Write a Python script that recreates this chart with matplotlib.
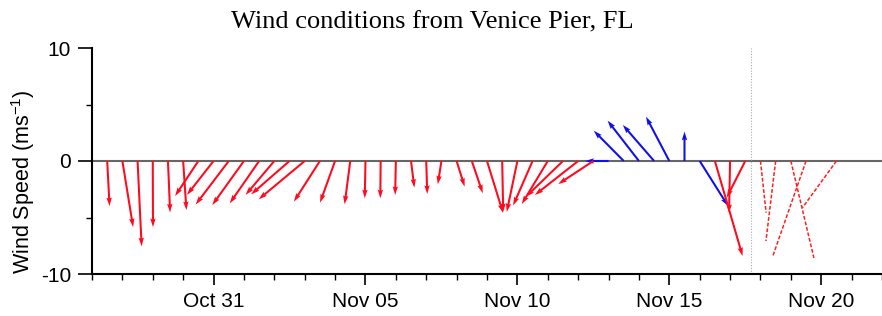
import numpy as np
import matplotlib
matplotlib.use("Agg")
import matplotlib.pyplot as plt
import matplotlib.dates as mdates

plt.rcParams['font.family'] = ['Liberation Sans', 'DejaVu Sans']
plt.rcParams['mathtext.default'] = 'regular'

# ---------------- data ----------------
title = "Wind conditions from Venice Pier, FL"
ylabel = "Wind Speed (ms$^{-1}$)"

# observed (red, solid)
obs_times = ['2014-10-27T12:00', '2014-10-28T00:00', '2014-10-28T12:00', '2014-10-29T00:00',
             '2014-10-29T12:00', '2014-10-30T00:00', '2014-10-30T12:00', '2014-10-31T00:00',
             '2014-10-31T12:00', '2014-11-01T00:00', '2014-11-01T12:00', '2014-11-02T00:00',
             '2014-11-02T12:00', '2014-11-03T00:00', '2014-11-03T12:00', '2014-11-04T00:00',
             '2014-11-04T12:00', '2014-11-05T00:00', '2014-11-05T12:00', '2014-11-06T00:00',
             '2014-11-06T12:00', '2014-11-07T00:00', '2014-11-07T12:00', '2014-11-08T00:00',
             '2014-11-08T12:00', '2014-11-09T00:00', '2014-11-09T12:00', '2014-11-10T00:00',
             '2014-11-10T12:00', '2014-11-11T00:00', '2014-11-11T12:00', '2014-11-12T00:00',
             '2014-11-12T12:00',
             '2014-11-16T12:00', '2014-11-17T00:00', '2014-11-17T12:00']
obs_u = [0.21, 0.95, 0.36, 0.02, 0.19, 0.29, -2.06, -2.35, -2.92, -2.80, -2.60, -2.54,
         -3.39, -4.07, -2.30, -1.33, -0.50, -0.06, -0.03, -0.06, 0.29, 0.09, -0.32, 0.71,
         0.97, 1.42, 0.09, -0.94, -1.72, -2.30, -3.27, -3.83, -3.10,
         2.45, -0.09, -1.65]
obs_v = [-4.00, -5.85, -7.55, -5.85, -4.55, -4.35, -3.10, -3.00, -3.85, -3.90, -3.75, -3.00,
         -2.95, -3.39, -3.60, -3.69, -3.83, -3.30, -3.30, -3.01, -2.36, -2.92, -2.06, -2.27,
         -2.85, -4.60, -4.51, -4.51, -3.94, -3.81, -3.16, -3.01, -2.04,
         -8.41, -4.60, -3.25]

# second source (blue, solid)
alt_times = ['2014-11-13T00:00', '2014-11-13T12:00', '2014-11-14T00:00', '2014-11-14T12:00',
             '2014-11-15T00:00', '2014-11-15T12:00', '2014-11-16T00:00']
alt_u = [-2.06, -2.65, -2.77, -2.77, -2.06, 0.00, 2.51]
alt_v = [0.00, 2.68, 3.57, 3.19, 3.92, 2.60, -3.98]

# forecast (red, dashed)
fc_times = ['2014-11-18T00:00', '2014-11-18T12:00', '2014-11-19T00:00', '2014-11-19T12:00',
            '2014-11-20T12:00']
fc_u = [0.50, -0.86, 2.04, -2.95, -3.01]
fc_v = [-4.57, -7.08, -8.58, -8.45, -4.14]

now_time = '2014-11-17T16:20'
xlim_times = ['2014-10-27T00:00', '2014-11-22T00:00']
ylim = (-10, 10)
ytick_major = [-10, 0, 10]
ytick_minor = [-5, 5]

# ---------------- plot ----------------
def tnum(lst):
    return mdates.date2num(np.array(lst, dtype='datetime64[m]'))

fig = plt.figure(figsize=(8.82, 3.16), dpi=100)
ax = fig.add_axes([92/882, 42/316, 790/882, 226/316])

x0, x1 = tnum(xlim_times)
ax.set_xlim(x0, x1)
ax.set_ylim(*ylim)

ax.axhline(0, color='#666666', lw=1.5, zorder=1)
ax.axvline(tnum([now_time])[0], color='#aaaaaa', lw=0.8, ls=(0, (1, 1.5)), zorder=1)

qkw = dict(angles='uv', scale_units='y', scale=1, width=0.0026,
           headwidth=2.6, headlength=4.2, headaxislength=3.8, zorder=3)
ax.quiver(tnum(alt_times), np.zeros(len(alt_times)), alt_u, alt_v, color='#1010ee', **qkw)
ax.quiver(tnum(obs_times), np.zeros(len(obs_times)), obs_u, obs_v, color='#ff0a1e', **qkw)

# dashed forecast sticks: convert m/s in x to days using the axes pixel aspect
bb = ax.get_window_extent()
px_per_day = bb.width / (x1 - x0)
px_per_unit = bb.height / (ylim[1] - ylim[0])
fx = tnum(fc_times)
for xi, ui, vi in zip(fx, fc_u, fc_v):
    ax.plot([xi, xi + ui * px_per_unit / px_per_day], [0, vi], color='#ff2020',
            lw=1.1, ls=(0, (2.5, 1.2)), zorder=3)

ax.xaxis.set_major_locator(mdates.DayLocator(bymonthday=[5, 10, 15, 20, 31]))
ax.xaxis.set_minor_locator(mdates.DayLocator())
ax.xaxis.set_major_formatter(mdates.DateFormatter('%b %d'))
ax.set_yticks(ytick_major)
ax.set_yticklabels([str(t) for t in ytick_major])
ax.set_yticks(ytick_minor, minor=True)

ax.tick_params(axis='both', which='major', direction='out', width=1.2, labelsize=15)
ax.tick_params(axis='x', which='major', length=8, pad=5)
ax.tick_params(axis='y', which='major', length=10, pad=5)
ax.tick_params(axis='both', which='minor', direction='out', width=1.0, length=4)

for s in ['top', 'right']:
    ax.spines[s].set_visible(False)
for s in ['left', 'bottom']:
    ax.spines[s].set_linewidth(1.5)

ax.set_ylabel(ylabel, fontsize=15.5)
ax.yaxis.set_label_coords(-0.07, 0.41)

fig.text(432.5/882, (316-28)/316, title, ha='center', va='baseline',
         fontsize=19, family=['Liberation Serif', 'DejaVu Serif'])

fig.savefig('out.png', dpi=100)
